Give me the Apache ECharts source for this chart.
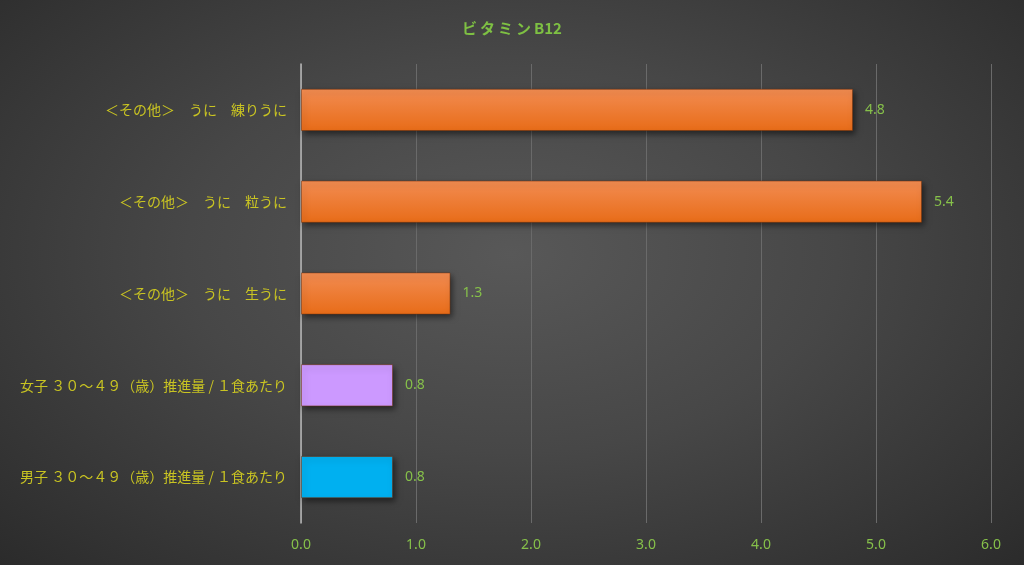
<!DOCTYPE html>
<html><head><meta charset="utf-8">
<style>html,body{margin:0;padding:0;}#c{width:1024px;height:565px;background:radial-gradient(ellipse at 50% 45%, #585858 0%, #474747 45%, #2b2b2b 100%);}</style>
<script src="https://cdn.jsdelivr.net/npm/echarts@6/dist/echarts.min.js"></script>
</head><body><div id="c"></div>
<script>
const categories = ['男子 ３０～４９（歳）推進量 / １食あたり','女子 ３０～４９（歳）推進量 / １食あたり','＜その他＞　うに　生うに','＜その他＞　うに　粒うに','＜その他＞　うに　練りうに'];
const values = [0.8, 0.8, 1.3, 5.4, 4.8];
const xTicks = [0, 1, 2, 3, 4, 5, 6];
const titleText = 'ビ\u2009タ\u2009ミ\u2009ン\u2009B12';
const orange = {type:'linear',x:0,y:0,x2:0,y2:1,colorStops:[{offset:0,color:'#f28c52'},{offset:1,color:'#e86c18'}]};
const barColors = ['#00b0f0','#cc99ff',orange,orange,orange];
const chart = echarts.init(document.getElementById('c'), null, {renderer:'canvas'});
chart.setOption({
  backgroundColor:'transparent',
  title:{text:titleText,left:'center',top:16,textStyle:{color:'#7ec043',fontSize:15,fontWeight:'bold',fontFamily:'Noto Sans CJK JP'}},
  grid:{left:301,right:33,top:64,bottom:42},
  xAxis:{type:'value',min:xTicks[0],max:xTicks[xTicks.length-1],interval:1,
    axisLine:{show:false},axisTick:{show:false},
    axisLabel:{color:'#86c04a',fontSize:14,margin:15,formatter:v=>v.toFixed(1),fontFamily:'Noto Sans'},
    splitLine:{lineStyle:{color:'#6a6a6a',width:1}}},
  yAxis:{type:'category',data:categories,
    axisLine:{lineStyle:{color:'#b8b8b8',width:1.5}},axisTick:{show:false},
    axisLabel:{color:'#c9c422',fontSize:14,margin:14,fontFamily:'Noto Sans CJK JP'}},
  series:[{type:'bar',data:values.map((v,i)=>({value:v,itemStyle:{color:barColors[i]}})),
    barWidth:'46%',
    itemStyle:{borderColor:'rgba(120,50,10,0.5)',borderWidth:1,shadowColor:'rgba(0,0,0,0.5)',shadowBlur:6,shadowOffsetX:2,shadowOffsetY:3},
    label:{show:true,position:'right',distance:12,color:'#86c04a',fontSize:14,fontFamily:'Noto Sans',formatter:p=>p.value.toFixed(1)}}]
});
</script></body></html>
